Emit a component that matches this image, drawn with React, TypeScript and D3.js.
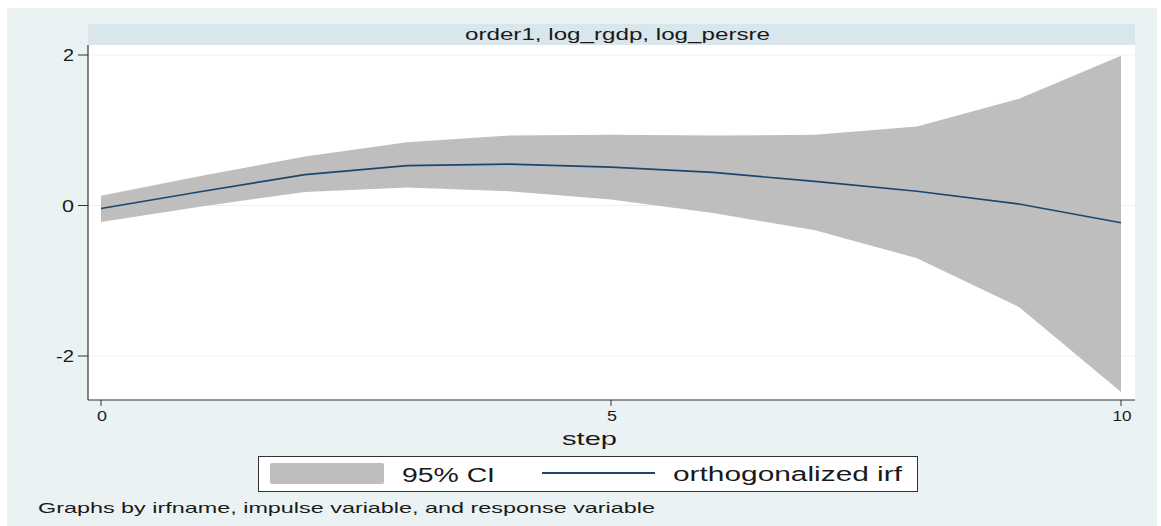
import React from "react";
import * as d3 from "d3";

const steps = [0, 1, 2, 3, 4, 5, 6, 7, 8, 9, 10];
const irf = [-0.04, 0.19, 0.41, 0.53, 0.55, 0.51, 0.44, 0.32, 0.19, 0.02, -0.23];
const upper = [0.13, 0.40, 0.65, 0.84, 0.93, 0.94, 0.93, 0.94, 1.05, 1.42, 1.99];
const lower = [-0.22, -0.01, 0.18, 0.24, 0.19, 0.08, -0.10, -0.33, -0.70, -1.35, -2.48];
const yTicks = [-2, 0, 2];
const xTicks = [0, 5, 10];
const panelTitle = "order1, log_rgdp, log_persre";
const xTitle = "step";
const legendLabels = ["95% CI", "orthogonalized irf"];
const note = "Graphs by irfname, impulse variable, and response variable";

const FONT = "'Liberation Sans', Arial, Helvetica, sans-serif";

export default function App() {
  const W = 1161;
  const H = 526;
  const plotL = 88, plotR = 1135, plotT = 45, plotB = 400;
  const x = d3.scaleLinear().domain([0, 10]).range([101, 1121]);
  const y = d3.scaleLinear().domain([-2, 2]).range([356, 55]);

  const data = steps.map((s, i) => ({ s, irf: irf[i], lo: lower[i], hi: upper[i] }));
  const area = d3
    .area<any>()
    .x((d) => x(d.s))
    .y0((d) => y(d.lo))
    .y1((d) => y(d.hi));
  const line = d3
    .line<any>()
    .x((d) => x(d.s))
    .y((d) => y(d.irf));

  const yLabelW: Record<string, number> = { "2": 11, "0": 12, "-2": 18 };
  const xLabelW: Record<string, number> = { "0": 10, "5": 10, "10": 19 };

  return (
    <svg
      width={W}
      height={H}
      style={{ position: "absolute", left: 0, top: 0, display: "block" }}
      fontFamily={FONT}
    >
      <rect x={0} y={0} width={W} height={H} fill="#ffffff" />
      <rect x={7} y={8} width={1150} height={H - 8} fill="#eaf2f3" />
      {/* strip title */}
      <rect x={plotL} y={24} width={plotR - plotL} height={21} fill="#d9e6eb" />
      <text
        x={465}
        y={40}
        fontSize={16}
        fill="#1a1a1a"
        textLength={305}
        lengthAdjust="spacingAndGlyphs"
      >
        {panelTitle}
      </text>
      {/* plot region */}
      <rect x={plotL} y={plotT} width={plotR - plotL} height={plotB - plotT} fill="#ffffff" />
      {yTicks.map((t) => (
        <line
          key={"g" + t}
          x1={plotL}
          x2={plotR}
          y1={y(t)}
          y2={y(t)}
          stroke="#eaf2f3"
          strokeWidth={1}
        />
      ))}
      <path d={area(data) || ""} fill="#bebebe" />
      <path d={line(data) || ""} fill="none" stroke="#1a476f" strokeWidth={1.6} />
      {/* axes */}
      <line x1={plotL} x2={plotL} y1={plotT} y2={plotB} stroke="#333" strokeWidth={1.2} />
      <line x1={plotL} x2={plotR} y1={plotB} y2={plotB} stroke="#333" strokeWidth={1.2} />
      {yTicks.map((t) => (
        <g key={"yt" + t}>
          <line x1={78} x2={plotL} y1={y(t)} y2={y(t)} stroke="#333" strokeWidth={1} />
          <text
            x={74 - yLabelW[String(t)]}
            y={y(t) + 6}
            fontSize={16}
            fill="#1a1a1a"
            textLength={yLabelW[String(t)]}
            lengthAdjust="spacingAndGlyphs"
          >
            {String(t)}
          </text>
        </g>
      ))}
      {xTicks.map((t) => (
        <g key={"xt" + t}>
          <line x1={x(t)} x2={x(t)} y1={plotB} y2={plotB + 6} stroke="#333" strokeWidth={1} />
          <text
            x={x(t) + 1 - xLabelW[String(t)] / 2}
            y={421}
            fontSize={14}
            fill="#1a1a1a"
            textLength={xLabelW[String(t)]}
            lengthAdjust="spacingAndGlyphs"
          >
            {String(t)}
          </text>
        </g>
      ))}
      <text
        x={562}
        y={445}
        fontSize={19}
        fill="#1a1a1a"
        textLength={55}
        lengthAdjust="spacingAndGlyphs"
      >
        {xTitle}
      </text>
      {/* legend */}
      <rect x={258.5} y={456.5} width={659} height={35} fill="#ffffff" stroke="#333" strokeWidth={1} />
      <rect x={270} y={463} width={114} height={21} rx={2} fill="#bebebe" />
      <text
        x={402}
        y={482}
        fontSize={20}
        fill="#1a1a1a"
        textLength={93}
        lengthAdjust="spacingAndGlyphs"
      >
        {legendLabels[0]}
      </text>
      <line x1={542} x2={655} y1={473} y2={473} stroke="#1a476f" strokeWidth={2} />
      <text
        x={673}
        y={481}
        fontSize={20}
        fill="#1a1a1a"
        textLength={229}
        lengthAdjust="spacingAndGlyphs"
      >
        {legendLabels[1]}
      </text>
      <text
        x={38}
        y={513}
        fontSize={15}
        fill="#1a1a1a"
        textLength={617}
        lengthAdjust="spacingAndGlyphs"
      >
        {note}
      </text>
    </svg>
  );
}
